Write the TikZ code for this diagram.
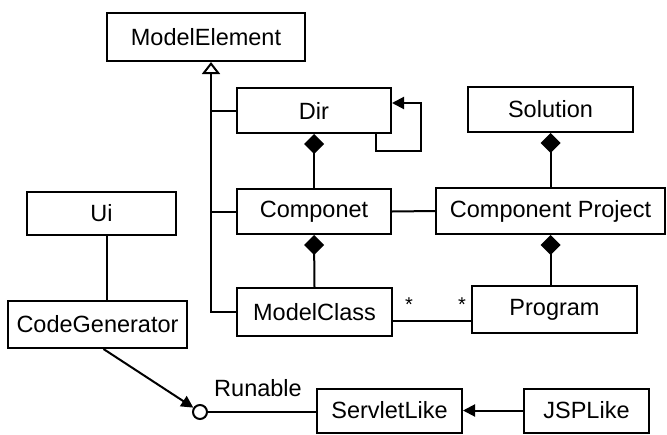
\documentclass[tikz,border=0pt]{standalone}
\usepackage{fontspec}
\setmainfont{Liberation Sans}
\usetikzlibrary{arrows.meta}
\begin{document}
\begin{tikzpicture}[x=1pt,y=-1pt,line width=2pt,
  cls/.style={draw,rectangle,inner sep=0pt,font=\fontsize{23.5}{27}\selectfont},
  lbl/.style={inner sep=0pt,font=\fontsize{23.5}{27}\selectfont},
  star/.style={inner sep=0pt,font=\fontsize{20}{22}\selectfont},
  gen/.style={-{Triangle[open,length=12pt,width=18pt,line width=2pt]}},
  comp/.style={-{Diamond[length=20pt,width=20pt]}},
  nav/.style={-{Triangle[length=12pt,width=12pt]}}]
\useasboundingbox (0,0) rectangle (667,434);
\node[cls,minimum width=198pt,minimum height=48pt] (ME) at (206,37) {ModelElement};
\node[cls,minimum width=154pt,minimum height=45pt] (Dir) at (314,110.5) {Dir};
\node[cls,minimum width=165pt,minimum height=45pt] (Sol) at (550.5,109.5) {Solution};
\node[cls,minimum width=149pt,minimum height=43pt] (Ui) at (101.5,213.5) {Ui};
\node[cls,minimum width=154pt,minimum height=45pt] (Comp) at (314,211.5) {Componet};
\node[cls,minimum width=229pt,minimum height=46pt] (CP) at (550.5,211) {Component Project};
\node[cls,minimum width=179pt,minimum height=47pt] (CG) at (97.5,324.5) {CodeGenerator};
\node[cls,minimum width=155pt,minimum height=48pt] (MC) at (314.5,312) {ModelClass};
\node[cls,minimum width=165pt,minimum height=47pt] (Prog) at (554.5,309.5) {Program};
\node[cls,minimum width=145pt,minimum height=44pt] (SL) at (389.5,410.5) {ServletLike};
\node[cls,minimum width=125pt,minimum height=44pt] (JSP) at (586.5,410.5) {JSPLike};
\node[circle,draw,fill=white,minimum size=14pt,inner sep=0pt] (run) at (200,412) {};
\node[lbl] (runlbl) at (258,388) {Runable};
\coordinate (trunk) at (211,0);
% generalization
\draw[gen] (MC.west) -| (trunk |- ME.south);
\draw (Dir.west) -- (Dir.west -| trunk);
\draw (Comp.west) -- (Comp.west -| trunk);
% self association on Dir
\draw[nav] ([xshift=-16pt]Dir.south east) -- ++(0,17) -| ([xshift=29pt,yshift=7.5pt]Dir.east) -- ([yshift=7.5pt]Dir.east);
% compositions
\draw[comp] (Comp.north) -- (Dir.south);
\draw[comp] (MC.north) -- (Comp.south);
\draw[comp] (CP.north) -- (Sol.south);
\draw[comp] (CP.south |- Prog.north) -- (CP.south);
% associations
\draw (Comp.east) -- (CP.west);
\coordinate (mca) at ([yshift=-9pt]MC.east);
\draw (mca) -- (mca -| Prog.west);
\node[star] (s1) at (409,305) {*};
\node[star] (s2) at (462,305) {*};
\draw ([xshift=5pt]Ui.south) -- ([xshift=5pt]Ui.south |- CG.north);
% interface
\draw[nav] ([xshift=6pt]CG.south) -- (run);
\draw (run) -- (run -| SL.west);
\draw[nav] (JSP.west) -- (JSP.west -| SL.east);
\end{tikzpicture}
\end{document}
